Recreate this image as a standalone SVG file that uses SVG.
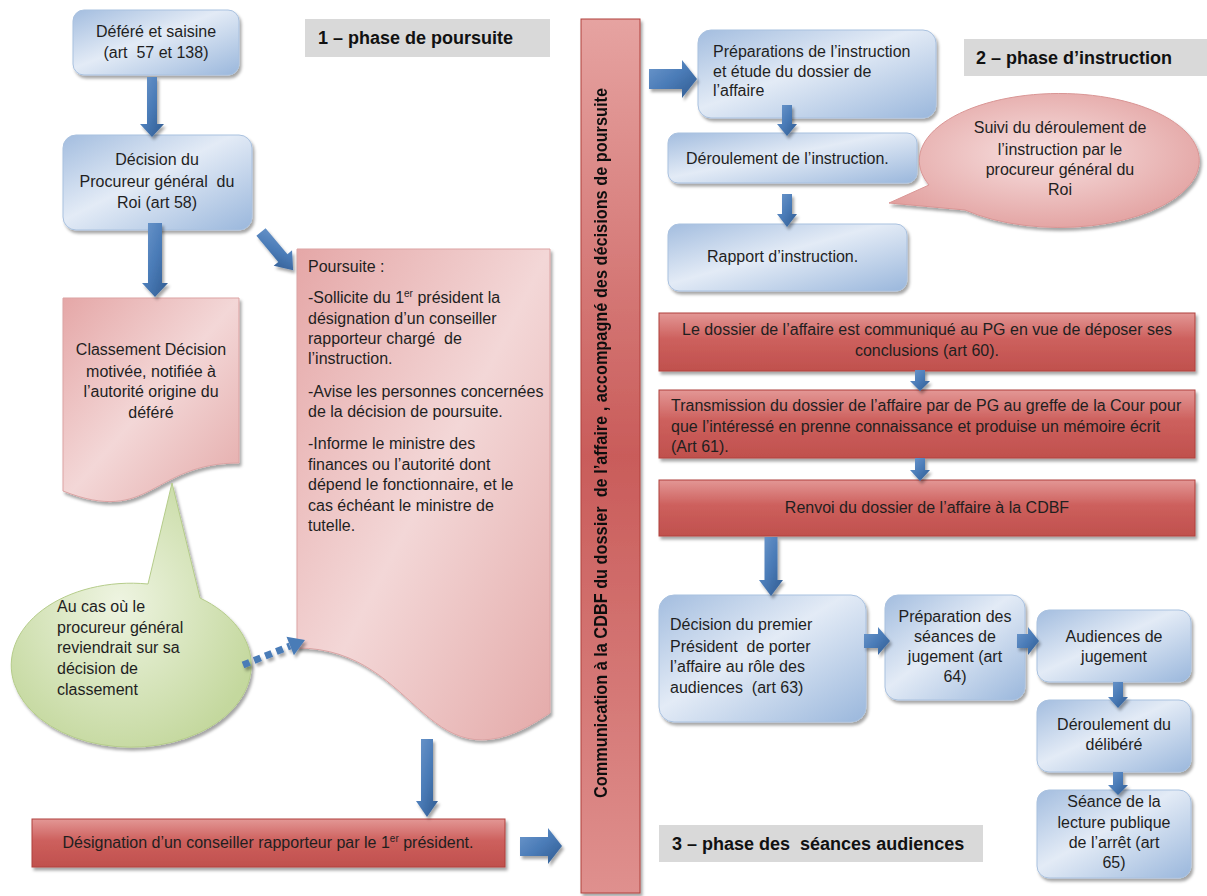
<svg xmlns="http://www.w3.org/2000/svg" width="1207" height="896" viewBox="0 0 1207 896">
<defs>
<style>
.t{font-family:"Liberation Sans",Arial,sans-serif;font-size:16px;fill:#1f1f1f;white-space:pre}
.c{text-anchor:middle}
.h{font-family:"Liberation Sans",Arial,sans-serif;font-size:18px;font-weight:bold;fill:#111;white-space:pre}
.blue{fill:url(#gBlue);stroke:#a9c1df;stroke-width:1}
.pink{fill:url(#gPink);stroke:#dba3a3;stroke-width:1}
.red{fill:url(#gRed);stroke:#b0403d;stroke-width:1}
.gray{fill:#d9d9d9}
.arr{fill:url(#gArr)}
</style>
<linearGradient id="gBlue" x1="0" y1="0" x2="1" y2="1">
<stop offset="0" stop-color="#a3bddf"/>
<stop offset="0.45" stop-color="#e3ebf6"/>
<stop offset="1" stop-color="#9ab7dc"/>
</linearGradient>
<linearGradient id="gPink" x1="0" y1="0" x2="1" y2="1">
<stop offset="0" stop-color="#e5a7a7"/>
<stop offset="0.5" stop-color="#f3d7d7"/>
<stop offset="1" stop-color="#e4aaa9"/>
</linearGradient>
<linearGradient id="gRed" x1="0" y1="0" x2="0" y2="1">
<stop offset="0" stop-color="#e39795"/>
<stop offset="0.45" stop-color="#cd605d"/>
<stop offset="1" stop-color="#c0504d"/>
</linearGradient>
<linearGradient id="gBar" x1="0" y1="0" x2="0" y2="1">
<stop offset="0" stop-color="#e6a3a1"/>
<stop offset="0.5" stop-color="#c95c5a"/>
<stop offset="1" stop-color="#df908e"/>
</linearGradient>
<radialGradient id="gGreen" cx="0.45" cy="0.45" r="0.6">
<stop offset="0" stop-color="#eef4e1"/>
<stop offset="1" stop-color="#c4d89e"/>
</radialGradient>
<radialGradient id="gPinkE" cx="0.5" cy="0.45" r="0.6">
<stop offset="0" stop-color="#f7e0e0"/>
<stop offset="1" stop-color="#e2a09f"/>
</radialGradient>
<linearGradient id="gArr" x1="0" y1="0" x2="1" y2="1">
<stop offset="0" stop-color="#6d98cc"/>
<stop offset="0.5" stop-color="#4a7bb7"/>
<stop offset="1" stop-color="#2f5a8f"/>
</linearGradient>
<filter id="sh" x="-10%" y="-10%" width="125%" height="130%">
<feDropShadow dx="2" dy="3" stdDeviation="1.8" flood-color="#000" flood-opacity="0.35"/>
</filter>
</defs>
<rect width="1207" height="896" fill="#fff"/>

<!-- phase labels -->
<g id="label-phase1">
<rect class="gray" x="305" y="19" width="245" height="38"/>
<text class="h" x="318" y="44">1 – phase de poursuite</text>
</g>
<g id="label-phase2">
<rect class="gray" x="964" y="39" width="243" height="37"/>
<text class="h" x="976" y="64">2 – phase d’instruction</text>
</g>
<g id="label-phase3">
<rect class="gray" x="659" y="825" width="324" height="37"/>
<text class="h" x="672" y="850">3 – phase des  séances audiences</text>
</g>

<!-- vertical bar -->
<g id="n-communication" filter="url(#sh)">
<rect x="581" y="19" width="59" height="874" fill="url(#gBar)" stroke="#b0403d" stroke-width="1"/>
<text class="h" transform="translate(607,443) rotate(-90)" x="0" y="0" text-anchor="middle" font-size="15" textLength="710" lengthAdjust="spacingAndGlyphs">Communication à la CDBF du dossier  de l’affaire , accompagné des décisions de poursuite</text>
</g>

<!-- left column -->
<g id="n-defere">
<rect class="blue" filter="url(#sh)" x="73" y="10" width="166" height="65" rx="11"/>
<text class="t c" x="156" y="37">Déféré et saisine</text>
<text class="t c" x="156" y="58">(art  57 et 138)</text>
</g>
<g id="n-decision-pg">
<rect class="blue" filter="url(#sh)" x="63" y="135" width="189" height="95" rx="13"/>
<text class="t c" x="157" y="165">Décision du</text>
<text class="t c" x="157" y="187">Procureur général  du</text>
<text class="t c" x="157" y="208">Roi (art 58)</text>
</g>
<g id="n-classement">
<path class="pink" filter="url(#sh)" d="M63,298 H239 V463 C151,463 151,526 63,491 Z"/>
<text class="t c" x="151" y="355">Classement Décision</text>
<text class="t c" x="151" y="377">motivée, notifiée à</text>
<text class="t c" x="151" y="397">l’autorité origine du</text>
<text class="t c" x="151" y="418">déféré</text>
</g>
<g id="n-aucas">
<path fill="url(#gGreen)" stroke="#b5cc8a" stroke-width="1" filter="url(#sh)" d="M148,584 L172,483 L200,598 A120,82 0 1,1 148,584 Z"/>
<text class="t" x="57" y="612">Au cas où le</text>
<text class="t" x="57" y="633">procureur général</text>
<text class="t" x="57" y="653">reviendrait sur sa</text>
<text class="t" x="57" y="674">décision de</text>
<text class="t" x="57" y="695">classement</text>
</g>
<g id="n-poursuite">
<path class="pink" filter="url(#sh)" d="M550,249 H297 V648 C423.5,648 423.5,800 550,713 Z"/>
<text class="t" x="308" y="272">Poursuite :</text>
<text class="t" x="308" y="303">-Sollicite du 1<tspan font-size="10" dy="-6">er</tspan><tspan dy="6"> président la</tspan></text>
<text class="t" x="308" y="324">désignation d’un conseiller</text>
<text class="t" x="308" y="344">rapporteur chargé  de</text>
<text class="t" x="308" y="364">l’instruction.</text>
<text class="t" x="308" y="397">-Avise les personnes concernées</text>
<text class="t" x="308" y="417">de la décision de poursuite.</text>
<text class="t" x="308" y="449">-Informe le ministre des</text>
<text class="t" x="308" y="470">finances ou l’autorité dont</text>
<text class="t" x="308" y="490">dépend le fonctionnaire, et le</text>
<text class="t" x="308" y="511">cas échéant le ministre de</text>
<text class="t" x="308" y="531">tutelle.</text>
</g>
<g id="n-designation">
<rect class="red" filter="url(#sh)" x="32" y="819" width="473" height="48"/>
<text class="t c" x="268" y="848">Désignation d’un conseiller rapporteur par le 1<tspan font-size="10" dy="-6">er</tspan><tspan dy="6"> président.</tspan></text>
</g>

<!-- right column -->
<g id="n-preparations">
<rect class="blue" filter="url(#sh)" x="698" y="30" width="238" height="88" rx="13"/>
<text class="t" x="713" y="57">Préparations de l’instruction</text>
<text class="t" x="713" y="77">et étude du dossier de</text>
<text class="t" x="713" y="96">l’affaire</text>
</g>
<g id="n-deroulement">
<rect class="blue" filter="url(#sh)" x="668" y="133" width="249" height="50" rx="10"/>
<text class="t" x="686" y="164">Déroulement de l’instruction.</text>
</g>
<g id="n-suivi">
<path fill="url(#gPinkE)" stroke="#d99594" stroke-width="1" filter="url(#sh)" d="M929,185 L889,203 L965,210 A140,67 0 1,0 929,185 Z"/>
<text class="t c" x="1060" y="133">Suivi du déroulement de</text>
<text class="t c" x="1060" y="155">l’instruction par le</text>
<text class="t c" x="1060" y="175">procureur général du</text>
<text class="t c" x="1060" y="195">Roi</text>
</g>
<g id="n-rapport">
<rect class="blue" filter="url(#sh)" x="668" y="224" width="239" height="67" rx="11"/>
<text class="t" x="707" y="262">Rapport d’instruction.</text>
</g>
<g id="n-communique">
<rect class="red" filter="url(#sh)" x="659" y="313" width="536" height="58"/>
<text class="t c" x="927" y="335">Le dossier de l’affaire est communiqué au PG en vue de déposer ses</text>
<text class="t c" x="927" y="356">conclusions (art 60).</text>
</g>
<g id="n-transmission">
<rect class="red" filter="url(#sh)" x="659" y="390" width="536" height="68"/>
<text class="t" x="671" y="411">Transmission du dossier de l’affaire par de PG au greffe de la Cour pour</text>
<text class="t" x="671" y="432">que l’intéressé en prenne connaissance et produise un mémoire écrit</text>
<text class="t" x="671" y="452">(Art 61).</text>
</g>
<g id="n-renvoi">
<rect class="red" filter="url(#sh)" x="659" y="480" width="536" height="56"/>
<text class="t c" x="927" y="513">Renvoi du dossier de l’affaire à la CDBF</text>
</g>
<g id="n-decision-pp">
<rect class="blue" filter="url(#sh)" x="659" y="595" width="207" height="127" rx="15"/>
<text class="t" x="670" y="630">Décision du premier</text>
<text class="t" x="670" y="652">Président  de porter</text>
<text class="t" x="670" y="672">l’affaire au rôle des</text>
<text class="t" x="670" y="693">audiences  (art 63)</text>
</g>
<g id="n-preparation-seances">
<rect class="blue" filter="url(#sh)" x="885" y="595" width="140" height="105" rx="13"/>
<text class="t c" x="955" y="622">Préparation des</text>
<text class="t c" x="955" y="642">séances de</text>
<text class="t c" x="955" y="662">jugement (art</text>
<text class="t c" x="955" y="682">64)</text>
</g>
<g id="n-audiences">
<rect class="blue" filter="url(#sh)" x="1037" y="610" width="154" height="72" rx="12"/>
<text class="t c" x="1114" y="642">Audiences de</text>
<text class="t c" x="1114" y="662">jugement</text>
</g>
<g id="n-delibere">
<rect class="blue" filter="url(#sh)" x="1037" y="700" width="154" height="72" rx="12"/>
<text class="t c" x="1114" y="730">Déroulement du</text>
<text class="t c" x="1114" y="750">délibéré</text>
</g>
<g id="n-seance">
<rect class="blue" filter="url(#sh)" x="1037" y="790" width="154" height="88" rx="12"/>
<text class="t c" x="1114" y="807">Séance de la</text>
<text class="t c" x="1114" y="828">lecture publique</text>
<text class="t c" x="1114" y="848">de l’arrêt (art</text>
<text class="t c" x="1114" y="868">65)</text>
</g>

<!-- connectors -->
<g id="connectors" filter="url(#sh)">
<polygon class="arr" points="147,77 157,77 157,124 164,124 152,137 140,124 147,124"/>
<polygon class="arr" points="148,223 162,223 162,283 168,283 155,297 142,283 148,283"/>
<polygon class="arr" transform="translate(261,232) rotate(50)" points="0,-6 34,-6 34,-12 50,0 34,12 34,6 0,6"/>
<line x1="243" y1="665" x2="290" y2="646" stroke="#4a7bb7" stroke-width="7" stroke-dasharray="7 5"/>
<polygon fill="#4a7bb7" points="305,640 293.9,655.3 286.5,636.7"/>
<polygon class="arr" points="421,739 433,739 433,801 438,801 427,817 416,801 421,801"/>
<polygon class="arr" points="520,837 548,837 548,828 562,846 548,864 548,856 520,856"/>
<polygon class="arr" points="649,69 682,69 682,60 697,79 682,98 682,89 649,89"/>
<polygon class="arr" points="782,105 792,105 792,124 797,124 787,136 777,124 782,124"/>
<polygon class="arr" points="782,194 792,194 792,214 797,214 787,227 777,214 782,214"/>
<polygon class="arr" points="915,370 925,370 925,381 930,381 920,391 910,381 915,381"/>
<polygon class="arr" points="915,458 925,458 925,470 930,470 920,481 910,470 915,470"/>
<polygon class="arr" points="764.5,537 777.5,537 777.5,580 783,580 771,596 759,580 764.5,580"/>
<polygon class="arr" points="864,634 878,634 878,627 890,641 878,655 878,648 864,648"/>
<polygon class="arr" points="1017,634 1028,634 1028,627 1039,641 1028,655 1028,648 1017,648"/>
<polygon class="arr" points="1113,682 1123,682 1123,697 1128,697 1118,708 1108,697 1113,697"/>
<polygon class="arr" points="1113,772 1123,772 1123,785 1128,785 1118,795 1108,785 1113,785"/>
</g>
</svg>
